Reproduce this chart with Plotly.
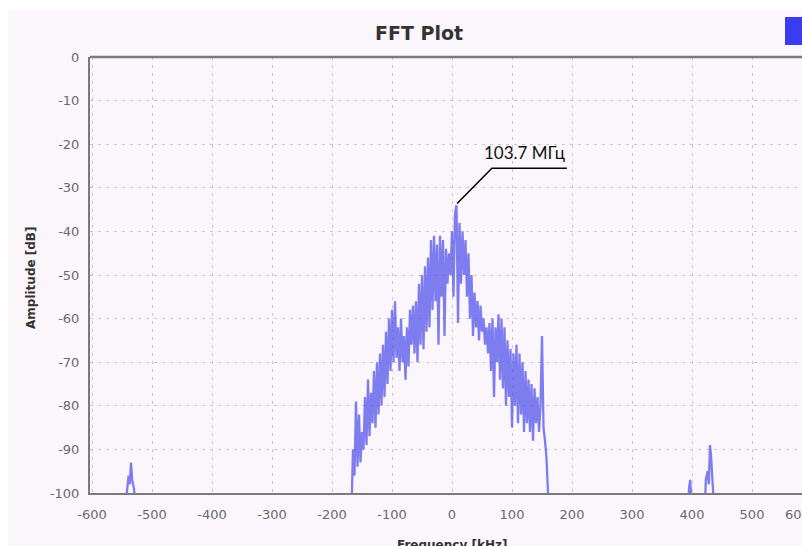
import plotly.graph_objects as go

# ---- spectrum data (frequency offset in kHz, amplitude in dB) ----
# floor segments below -100 dB fall outside the visible range
left_spur_khz = [-603, -545, -542, -539, -537, -535, -533, -530, -527, -524]
left_spur_db = [-110, -110, -100, -96, -98, -93, -97, -99, -104, -110]

main_band_khz = [
    -170, -167.5, -165, -162.5, -160, -157.5, -155, -152.5, -150, -147.5,
    -145, -142.5, -140, -137.5, -135, -132.5, -130, -127.5, -125, -122.5,
    -120, -117.5, -115, -112.5, -110, -107.5, -105, -102.5, -100, -97.5,
    -95, -92.5, -90, -87.5, -85, -82.5, -80, -77.5, -75, -72.5,
    -70, -67.5, -65, -62.5, -60, -57.5, -55, -52.5, -50, -47.5,
    -45, -42.5, -40, -37.5, -35, -32.5, -30, -27.5, -25, -22.5,
    -20, -17.5, -15, -12.5, -10, -7.5, -5, -2.5, 0, 2.5,
    5, 7.5, 10, 12.5, 15, 17.5, 20, 22.5, 25, 27.5,
    30, 32.5, 35, 37.5, 40, 42.5, 45, 47.5, 50, 52.5,
    55, 57.5, 60, 62.5, 65, 67.5, 70, 72.5, 75, 77.5,
    80, 82.5, 85, 87.5, 90, 92.5, 95, 97.5, 100, 102.5,
    105, 107.5, 110, 112.5, 115, 117.5, 120, 122.5, 125, 127.5,
    130, 132.5, 135, 137.5, 140, 142.5, 145, 147.5, 150, 152.5,
    155, 157.5, 160, 162.5,
]
main_band_db = [
    -110, -104, -90, -96, -79, -94, -82, -93, -86, -90,
    -78, -89, -74, -87, -77, -84, -72, -85, -70, -82,
    -68, -80, -66, -78, -63, -75, -60, -72, -58, -70,
    -56, -69, -62, -72, -60, -70, -64, -74, -62, -71,
    -58, -66, -57, -68, -56, -70, -52, -66, -50, -67,
    -48, -63, -46, -62, -42, -58, -41, -56, -43, -66,
    -41, -55, -42, -64, -44, -52, -45, -50, -40, -55,
    -36, -34, -61, -38, -52, -40, -50, -42, -55, -45,
    -60, -50, -64, -54, -62, -56, -65, -57, -63, -60,
    -66, -62, -68, -61, -72, -60, -78, -62, -70, -59,
    -74, -60, -76, -62, -80, -65, -78, -67, -85, -68,
    -80, -66, -84, -68, -82, -70, -86, -72, -84, -74,
    -86, -75, -88, -76, -84, -78, -86, -80, -64, -85,
    -88, -92, -100, -110,
]

right_spurs_khz = [392, 395, 397, 399, 402, 420, 423, 426, 428, 430, 432, 434, 437, 440, 583]
right_spurs_db = [-110, -99, -97, -101, -110, -110, -97, -95, -98, -89, -92, -97, -104, -110, -110]

freq_khz = left_spur_khz + main_band_khz + right_spurs_khz
amp_db = left_spur_db + main_band_db + right_spurs_db

x_ticks = [-600, -500, -400, -300, -200, -100, 0, 100, 200, 300, 400, 500]
y_ticks = [0, -10, -20, -30, -40, -50, -60, -70, -80, -90, -100]

carrier_label = "103.7 МГц"

# ---- page geometry ----
W, H = 802, 546
ML, MR, MT, MB = 90, 0, 57, 53
PW, PH = W - ML - MR, H - MT - MB


def px(x):
    return (x - ML) / PW


def py(y):
    return (H - MB - y) / PH


BG = "#fbf6fb"
AXIS = "#7a7a7a"
GRID = "#c9c5c9"
TICK_FONT = dict(family="DejaVu Sans", size=13, color="#6a6a6a")

fig = go.Figure()
fig.add_trace(go.Scatter(
    x=freq_khz, y=amp_db, mode="lines",
    line=dict(color="rgba(78,78,236,0.72)", width=2.3),
    showlegend=False, hoverinfo="skip",
))

# peak marker with a bent leader line and label
pk_i = max(range(len(amp_db)), key=lambda i: amp_db[i])
pk_f, pk_a = freq_khz[pk_i], amp_db[pk_i]
elbow_f, elbow_a = pk_f + 59, pk_a + 8.5
end_f = elbow_f + 125

fig.add_shape(
    type="path", xref="x", yref="y",
    path=f"M {pk_f + 1},{pk_a + 0.4} L {elbow_f},{elbow_a} L {end_f},{elbow_a}",
    line=dict(color="black", width=1.5),
)
fig.add_annotation(
    x=elbow_f + 55, y=elbow_a + 0.9, xref="x", yref="y",
    text=carrier_label, showarrow=False, yanchor="bottom",
    font=dict(family="Lato", size=17, color="#111111"), borderpad=0,
)

# background panel and the clipped legend swatch
fig.add_shape(type="rect", xref="paper", yref="paper", layer="below",
              x0=px(8), x1=1.0, y0=py(H), y1=py(10),
              fillcolor=BG, line=dict(width=0))
fig.add_shape(type="rect", xref="paper", yref="paper",
              x0=px(785), x1=1.0, y0=py(45), y1=py(17),
              fillcolor="#3b3bef", line=dict(width=0))

# axis titles
fig.add_annotation(
    x=px(22), y=py(278), xref="paper", yref="paper", text="<b>Amplitude [dB]</b>",
    textangle=-90, showarrow=False,
    font=dict(family="DejaVu Sans", size=12, color="#333333"),
)
fig.add_annotation(
    x=px(452), y=py(536), xref="paper", yref="paper", text="<b>Frequency [kHz]</b>",
    showarrow=False, yanchor="top",
    font=dict(family="DejaVu Sans", size=12, color="#333333"),
)
# the 600 tick label sits past the right edge of the page
fig.add_annotation(
    x=px(812), y=py(505), xref="paper", yref="paper", text="600",
    showarrow=False, yanchor="top", font=TICK_FONT,
)

fig.update_layout(
    width=W, height=H,
    margin=dict(l=ML, r=MR, t=MT, b=MB, pad=0),
    paper_bgcolor="white", plot_bgcolor=BG,
    title=dict(
        text="<b>FFT Plot</b>", x=419 / W, y=1 - 33 / H,
        xref="container", yref="container", xanchor="center", yanchor="middle",
        font=dict(family="DejaVu Sans", size=19, color="#333333"),
    ),
    showlegend=False,
)
fig.update_xaxes(
    range=[(ML - 452) / 0.6, (W - 452) / 0.6],
    tickvals=x_ticks, ticktext=[str(v) for v in x_ticks],
    showgrid=True, gridcolor=GRID, griddash="3px,5px", gridwidth=1,
    showline=True, linecolor=AXIS, linewidth=2, mirror=False,
    ticks="", ticklabelstandoff=8, tickfont=TICK_FONT, zeroline=False,
)
fig.update_yaxes(
    range=[-100, 0],
    tickvals=y_ticks, ticktext=[str(v) for v in y_ticks],
    showgrid=True, gridcolor=GRID, griddash="3px,5px", gridwidth=1,
    showline=True, linecolor=AXIS, linewidth=2, mirror=False,
    ticks="", ticklabelstandoff=6, tickfont=TICK_FONT, zeroline=False,
)
# top frame line
fig.add_shape(type="line", xref="paper", yref="paper", x0=0, x1=1, y0=1, y1=1,
              line=dict(color=AXIS, width=2.5))

fig.write_html("out.html")
